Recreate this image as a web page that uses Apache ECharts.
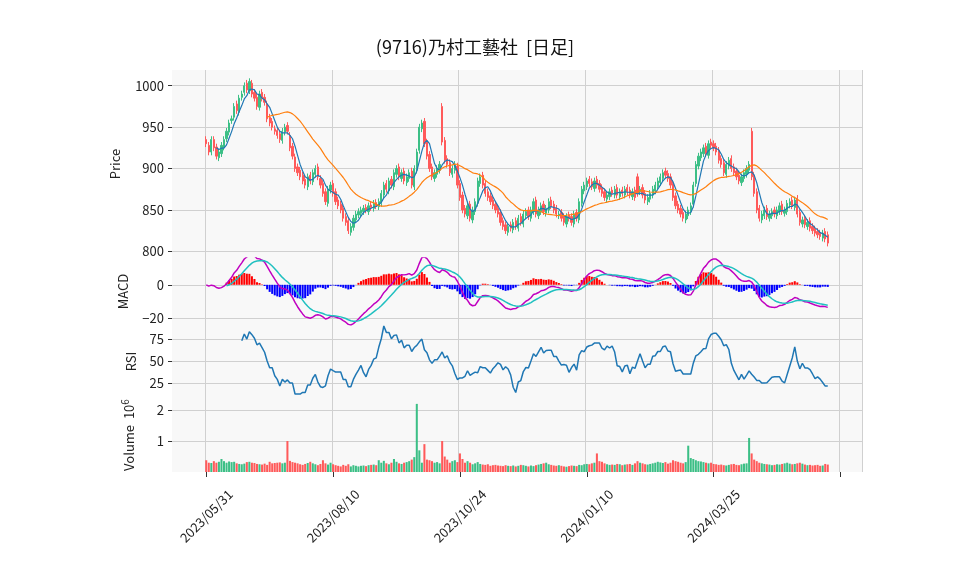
<!DOCTYPE html>
<html><head><meta charset="utf-8">
<script src="https://cdn.jsdelivr.net/npm/echarts@6/dist/echarts.min.js"></script>
<style>html,body{margin:0;padding:0;background:#fff}#c{width:958px;height:575px}</style>
</head><body><div id="c"></div>
<script>
const title = '(9716)乃村工藝社  [日足]';
const tickLabels = {0:'2023/05/31',50:'2023/08/10',100:'2023/10/24',150:'2024/01/10',200:'2024/03/25',250:''};
const closes = [930,920,935,925,915,920,928,
935,945,955,960,975,970,985,990,1000,995,1005,
990,985,975,990,985,980,
960,955,950,945,940,935,945,950,945,
925,915,900,895,890,
885,880,890,885,895,900,890,
880,870,860,875,880,870,860,855,
850,840,835,825,830,840,845,
848,850,852,850,855,853,858,855,860,
870,880,875,885,880,895,900,890,
895,885,890,895,880,900,
920,950,955,930,915,900,
890,895,900,905,
932,910,905,895,900,905,
880,865,850,
845,855,840,850,860,
885,890,880,870,865,
860,855,850,845,835,830,825,830,
828,835,830,840,835,845,848,842,
850,860,845,850,855,848,852,860,855,850,845,
845,840,835,842,840,835,845,840,
860,875,880,885,882,878,885,880,
875,870,865,868,872,870,875,868,872,870,875,872,
868,872,865,870,875,868,862,865,870,
875,880,885,890,895,892,888,880,
865,855,850,845,840,845,850,855,
880,905,915,920,925,918,930,928,925,920,
910,905,895,905,910,900,895,
890,885,890,895,900,905,890,
870,850,840,845,850,842,845,
848,845,850,855,848,850,
858,860,855,862,845,835,
838,832,835,828,825,822,820,818,822,815,810];
const opens = [935,928,920,935,926,913,918,
926,936,944,958,962,978,968,986,992,1003,994,
1003,992,986,974,992,986,
978,962,957,948,946,942,934,944,952,
940,927,914,902,898,
892,887,878,892,884,893,902,
888,882,872,858,874,882,872,862,
857,852,842,837,823,829,838,
844,846,848,853,848,856,852,859,854,
858,868,882,873,887,878,893,902,
888,897,883,888,897,878,
898,922,948,957,932,917,
902,888,893,898,
975,934,912,907,893,898,
903,882,868,
852,843,857,838,848,
858,882,892,882,872,
867,862,857,852,847,837,832,823,
832,826,837,828,842,833,843,850,
840,848,862,843,848,857,846,850,862,857,852,
843,847,842,833,844,842,833,847,
838,858,873,878,887,884,876,887,
882,877,872,863,866,874,868,877,866,874,868,877,
874,866,874,890,872,877,870,860,863,
868,873,878,883,888,897,894,890,
882,867,857,852,847,838,843,848,
857,882,903,913,918,927,916,932,930,927,
922,912,907,893,903,912,902,
897,892,883,888,893,898,945,
892,872,852,838,843,852,840,
843,850,843,848,857,846,
848,856,862,853,864,847,
833,840,830,837,830,827,824,822,816,824,820];
const volumesK = [380,300,290,350,300,330,420,350,300,340,
320,330,280,260,250,270,320,330,300,290,
260,250,240,270,230,330,280,290,300,310,
280,300,1000,360,320,300,280,250,230,260,
290,330,280,250,220,260,380,280,240,300,
250,220,200,180,230,200,250,180,220,200,
180,200,210,190,220,230,240,220,380,300,
360,280,250,300,420,330,280,260,300,320,
350,400,480,2200,700,300,900,400,380,350,
300,320,280,1000,500,400,300,350,380,320,
600,420,300,350,300,250,280,320,260,240,
230,250,200,220,230,210,200,190,220,200,
190,210,180,200,230,220,200,180,210,190,
220,240,260,280,300,250,230,210,200,220,
200,180,170,190,210,200,190,230,220,250,
260,250,280,300,600,350,330,280,250,230,
240,230,260,250,220,240,250,260,230,280,
350,300,280,250,240,260,280,300,330,310,
290,320,270,300,380,350,330,300,280,320,
850,450,420,380,350,340,320,300,280,300,
260,250,230,240,220,210,230,250,260,230,
220,250,270,280,1100,600,400,350,300,280,
260,250,240,220,230,250,240,260,280,300,
270,250,260,280,300,270,240,220,230,210,
220,230,200,210,260,240];

const PAD = 13, TOTAL = 272, N = closes.length;
const cats = []; for (let i = 0; i < TOTAL; i++) cats.push(String(i));
const pad = arr => { const o = new Array(TOTAL).fill('-'); arr.forEach((v, i) => o[i + PAD] = v); return o; };

const UP = '#3cbf86', DN = '#ff5a5a';
const ohlc = closes.map((c, i) => { const o = opens[i]; return [o, c, Math.min(o, c) - 4, Math.max(o, c) + 4]; });
function ma(n) { return closes.map((c, i) => { if (i < n - 1) return '-'; let s = 0; for (let k = i - n + 1; k <= i; k++) s += closes[k]; return +(s / n).toFixed(2); }); }
function ema(arr, n) { const a = 2 / (n + 1); const o = []; arr.forEach((v, i) => o.push(i ? a * v + (1 - a) * o[i - 1] : v)); return o; }
const e12 = ema(closes, 12), e26 = ema(closes, 26);
const macd = closes.map((c, i) => e12[i] - e26[i]);
const sig = ema(macd, 9);
const hist = macd.map((m, i) => i < 8 ? '-' : { value: m - sig[i], itemStyle: { color: m - sig[i] >= 0 ? '#ff0000' : '#0000ff' } });
const sigShow = sig.map((v, i) => i < 8 ? '-' : v);
const rsi = closes.map((c, i) => { if (i < 14) return '-'; let g = 0, l = 0; for (let k = i - 13; k <= i; k++) { const d = closes[k] - closes[k - 1]; if (d > 0) g += d; else l -= d; } return l === 0 ? 100 : 100 - 100 / (1 + g / l); });
const vols = volumesK.map((v, i) => ({ value: v / 1000, itemStyle: { color: closes[i] >= opens[i] ? UP : DN } }));

const isTick = idx => (idx - PAD) % 50 === 0 && idx >= PAD;
const F = 'Noto Sans CJK JP';
const grids = [[70, 188], [258, 67], [325, 73], [398, 74]];
const grid = grids.map(g => ({ left: 172, right: 96, top: g[0], height: g[1], show: true, backgroundColor: '#f8f8f8', borderWidth: 0 }));
const xAxis = grids.map((g, k) => ({
  type: 'category', gridIndex: k, data: cats, boundaryGap: true,
  axisLine: { show: false },
  axisTick: { show: k === 3, interval: isTick, alignWithLabel: true, length: 5, lineStyle: { color: '#333' } },
  axisLabel: { show: k === 3, interval: isTick, rotate: 45, align: 'center', verticalAlign: 'middle', fontFamily: F, fontSize: 13, color: '#222', margin: 44,
    formatter: v => tickLabels[(+v) - PAD] !== undefined ? tickLabels[(+v) - PAD] : '' },
  splitLine: { show: true, interval: isTick, lineStyle: { color: '#d0d0d0' } }
}));
function yA(k, min, max, vals, name, gap) {
  return { type: 'value', gridIndex: k, min, max, name, nameLocation: 'middle', nameGap: gap,
    nameTextStyle: { fontFamily: F, fontSize: 13, color: '#222', rich: { s: { fontSize: 10, verticalAlign: 'bottom', padding: [0, 0, 8, 0], fontFamily: F, color: '#222' } } },
    axisLine: { show: false },
    axisTick: { show: true, customValues: vals, length: 4, lineStyle: { color: '#333' } },
    axisLabel: { customValues: vals, fontFamily: F, fontSize: 13, color: '#222', margin: 8, formatter: v => String(v).replace('-', '−') },
    splitLine: { show: true, lineStyle: { color: '#d0d0d0' } } };
}
const yAxis = [
  yA(0, 792, 1019, [800, 850, 900, 950, 1000], 'Price', 50),
  yA(1, -24, 16, [-20, 0], 'MACD', 42),
  yA(2, 8, 91, [25, 50, 75], 'RSI', 34),
  yA(3, 0, 2.39, [1, 2], 'Volume  10{s|6}', 34)
];
const chart = echarts.init(document.getElementById('c'));
chart.setOption({
  animation: false,
  title: { text: title, left: 470, top: 33, textAlign: 'center', textStyle: { fontFamily: F, fontSize: 18, fontWeight: 'normal', color: '#111' } },
  grid, xAxis, yAxis,
  series: [
    { type: 'candlestick', xAxisIndex: 0, yAxisIndex: 0, data: pad(ohlc), barWidth: '70%',
      itemStyle: { color: UP, color0: DN, borderColor: UP, borderColor0: DN, borderWidth: 1 } },
    { type: 'line', xAxisIndex: 0, yAxisIndex: 0, data: pad(ma(5)), showSymbol: false, lineStyle: { color: '#1f77b4', width: 1.2 } },
    { type: 'line', xAxisIndex: 0, yAxisIndex: 0, data: pad(ma(25)), showSymbol: false, lineStyle: { color: '#ff7f0e', width: 1.2 } },
    { type: 'bar', xAxisIndex: 1, yAxisIndex: 1, data: pad(hist), barWidth: '80%' },
    { type: 'line', xAxisIndex: 1, yAxisIndex: 1, data: pad(macd), showSymbol: false, lineStyle: { color: '#c000c0', width: 1.5 } },
    { type: 'line', xAxisIndex: 1, yAxisIndex: 1, data: pad(sigShow), showSymbol: false, lineStyle: { color: '#20c0c0', width: 1.5 } },
    { type: 'line', xAxisIndex: 2, yAxisIndex: 2, data: pad(rsi), showSymbol: false, lineStyle: { color: '#1f77b4', width: 1.5 } },
    { type: 'bar', xAxisIndex: 3, yAxisIndex: 3, data: pad(vols), barWidth: '80%' }
  ]
});
</script></body></html>
